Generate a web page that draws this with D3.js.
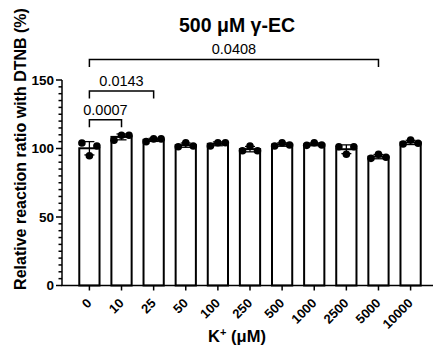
<!DOCTYPE html>
<html>
<head>
<meta charset="utf-8">
<script src="https://cdn.jsdelivr.net/npm/d3@7"></script>
<style>
  body { margin: 0; background: #fff; }
  svg { display: block; font-family: "Liberation Sans", Arial, sans-serif; }
</style>
</head>
<body>
<svg id="chart" width="435" height="346"></svg>
<script>
// K+ concentrations (uM)
const categories = ["0", "10", "25", "50", "100", "250", "500", "1000", "2500", "5000", "10000"];
// three replicates per concentration (left, middle, right as plotted)
const replicates = [
  [104.0, 94.7, 101.8],
  [106.0, 109.7, 109.7],
  [105.0, 107.0, 107.0],
  [101.3, 104.2, 101.8],
  [101.8, 104.2, 104.2],
  [98.4, 101.8, 98.4],
  [101.8, 104.2, 102.6],
  [102.3, 104.2, 102.6],
  [101.3, 95.8, 101.3],
  [92.8, 95.8, 93.6],
  [103.3, 106.2, 103.8]
];
const yTicks = [0, 50, 100, 150];
const comparisons = [
  { from: "0", to: "10", p: "0.0007" },
  { from: "0", to: "25", p: "0.0143" },
  { from: "0", to: "5000", p: "0.0408" }
];
const bracketLevels = [121, 142, 165];

const svg = d3.select("#chart");

const x = d3.scaleBand().domain(categories).range([67.4, 432.6]).padding(0.37);
const y = d3.scaleLinear().domain([0, 150]).range([285.5, 80]);

const rows = categories.map((c, i) => ({
  cat: c,
  vals: replicates[i],
  mean: d3.mean(replicates[i]),
  sd: d3.deviation(replicates[i])
}));

// bars
svg.append("g")
  .selectAll("rect")
  .data(rows)
  .join("rect")
  .attr("x", (d) => x(d.cat))
  .attr("y", (d) => y(d.mean))
  .attr("width", x.bandwidth())
  .attr("height", (d) => y(0) - y(d.mean))
  .attr("fill", "#fff")
  .attr("stroke", "#000")
  .attr("stroke-width", 2);

// error bars (SD)
const err = svg.append("g").attr("stroke", "#000").attr("stroke-width", 1.3);
rows.forEach((d) => {
  const cx = x(d.cat) + x.bandwidth() / 2;
  err.append("line").attr("x1", cx).attr("x2", cx)
    .attr("y1", y(d.mean + d.sd)).attr("y2", y(d.mean - d.sd));
  [d.mean + d.sd, d.mean - d.sd].forEach((v) => {
    err.append("line").attr("x1", cx - 5).attr("x2", cx + 5)
      .attr("y1", y(v)).attr("y2", y(v));
  });
});

// replicate dots
const dots = [];
rows.forEach((d) => d.vals.forEach((v, j) => dots.push({ cat: d.cat, v, j })));
svg.append("g")
  .selectAll("circle")
  .data(dots)
  .join("circle")
  .attr("cx", (d) => x(d.cat) + x.bandwidth() / 2 + (d.j - 1) * 7.5)
  .attr("cy", (d) => y(d.v))
  .attr("r", 3.8)
  .attr("fill", "#000");

// y axis
const yAxis = svg.append("g").attr("stroke", "#000").attr("stroke-width", 1.5);
yAxis.append("line").attr("x1", 62).attr("x2", 62).attr("y1", y(150)).attr("y2", y(0));
d3.range(0, 151, 5).forEach((v) => {
  const major = v % 50 === 0;
  yAxis.append("line")
    .attr("x1", major ? 56 : 58.5).attr("x2", 62)
    .attr("y1", y(v)).attr("y2", y(v));
});
svg.append("g")
  .selectAll("text")
  .data(yTicks)
  .join("text")
  .attr("x", 54)
  .attr("y", (d) => y(d))
  .attr("dy", "0.36em")
  .attr("text-anchor", "end")
  .attr("font-size", 13.5)
  .attr("font-weight", "bold")
  .text((d) => d);

// x axis
const xAxis = svg.append("g").attr("stroke", "#000").attr("stroke-width", 1.5);
xAxis.append("line").attr("x1", 61.25).attr("x2", 433).attr("y1", y(0)).attr("y2", y(0));
categories.forEach((c) => {
  const cx = x(c) + x.bandwidth() / 2;
  xAxis.append("line").attr("x1", cx).attr("x2", cx).attr("y1", y(0)).attr("y2", y(0) + 5);
});
svg.append("g")
  .selectAll("text")
  .data(categories)
  .join("text")
  .attr("transform", (d) => `translate(${x(d) + x.bandwidth() / 2 + 3},${y(0) + 18.5}) rotate(-45)`)
  .attr("text-anchor", "end")
  .attr("font-size", 13)
  .attr("font-weight", "bold")
  .text((d) => d);

// axis titles
const kLabel = svg.append("text")
  .attr("x", 237)
  .attr("y", 341.5)
  .attr("text-anchor", "middle")
  .attr("font-size", 16.5)
  .attr("font-weight", "bold");
kLabel.append("tspan").text("K");
kLabel.append("tspan").attr("dy", -6).attr("font-size", 11).text("+");
kLabel.append("tspan").attr("dy", 6).text(" (μM)");

svg.append("text")
  .attr("transform", "translate(26,149) rotate(-90)")
  .attr("text-anchor", "middle")
  .attr("font-size", 16)
  .attr("font-weight", "bold")
  .text("Relative reaction ratio with DTNB (%)");

svg.append("text")
  .attr("x", 237)
  .attr("y", 32)
  .attr("text-anchor", "middle")
  .attr("font-size", 19.5)
  .attr("font-weight", "bold")
  .text("500 μM γ-EC");

// significance brackets
comparisons.forEach((c, i) => {
  const x1 = x(c.from) + x.bandwidth() / 2;
  const x2 = x(c.to) + x.bandwidth() / 2;
  const by = y(bracketLevels[i]);
  svg.append("path")
    .attr("d", `M${x1},${by + 7.5}V${by}H${x2}V${by + 7.5}`)
    .attr("fill", "none")
    .attr("stroke", "#000")
    .attr("stroke-width", 1.5);
  svg.append("text")
    .attr("x", (x1 + x2) / 2)
    .attr("y", by - 5)
    .attr("text-anchor", "middle")
    .attr("font-size", 14.5)
    .text(c.p);
});
</script>
</body>
</html>
